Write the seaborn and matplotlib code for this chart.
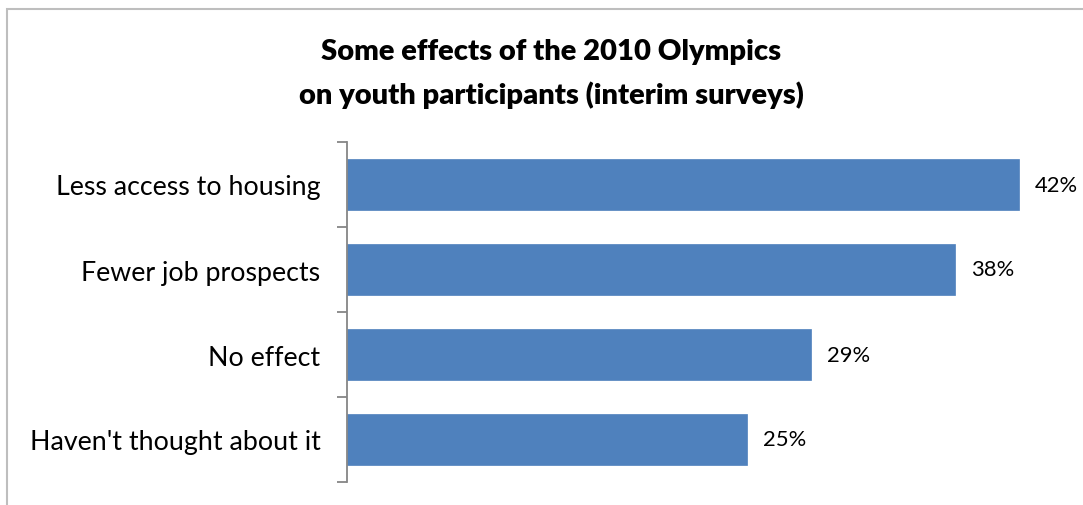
import matplotlib
matplotlib.use("Agg")
import matplotlib.pyplot as plt
import seaborn as sns
import pandas as pd
from matplotlib.patches import Rectangle

categories = ["Less access to housing", "Fewer job prospects", "No effect", "Haven't thought about it"]
values = [42, 38, 29, 25]
value_labels = ["42%", "38%", "29%", "25%"]
title_lines = ["Some effects of the 2010 Olympics", "on youth participants (interim surveys)"]

sns.set_theme(style="white")
plt.rcParams['font.family'] = ['Lato', 'DejaVu Sans']

df = pd.DataFrame({"category": categories, "value": values})

W, H = 1083, 506
fig = plt.figure(figsize=(W / 100, H / 100), dpi=100)
ax = fig.add_axes([347 / W, 1 - 483 / H, (1067 - 347) / W, (483 - 143) / H])

sns.barplot(data=df, x="value", y="category", orient="h", color="#4F81BD",
            saturation=1, width=0.61, ax=ax, edgecolor="#4F81BD", linewidth=0.5)

ax.set_xlim(0, 45)
ax.set_ylim(3.5, -0.5)
ax.set_xlabel("")
ax.set_ylabel("")
ax.set_xticks([])
for s in ["top", "right", "bottom"]:
    ax.spines[s].set_visible(False)
ax.spines["left"].set_color("#868686")
ax.spines["left"].set_linewidth(1.3)

# tick marks at category boundaries
ax.set_yticks([-0.5, 0.5, 1.5, 2.5, 3.5], minor=False)
ax.set_yticklabels([])
ax.tick_params(axis="y", which="major", length=7, width=1.3, color="#868686", left=True, pad=0)
ax.set_yticks(range(len(categories)), minor=True)
ax.set_yticklabels(categories, minor=True, fontsize=19.3, color="#000000")
ax.tick_params(axis="y", which="minor", length=0, pad=19)

for i, (v, lab) in enumerate(zip(values, value_labels)):
    ax.text(v + 1.0, i, lab, va="center", ha="left", fontsize=15.8, color="#000000")

fig.text(551 / W, 1 - 52 / H, title_lines[0], ha="center", va="center", fontsize=21,
         fontweight="heavy", color="#000000")
fig.text(551 / W, 1 - 95 / H, title_lines[1], ha="center", va="center", fontsize=21,
         fontweight="heavy", color="#000000")

fig.patches.append(Rectangle((7 / W, -0.1), 1.2, 1 - 10 / H + 0.1, transform=fig.transFigure,
                             fill=False, edgecolor="#BEBEBE", linewidth=1.5))

fig.savefig("out.png", dpi=100)
